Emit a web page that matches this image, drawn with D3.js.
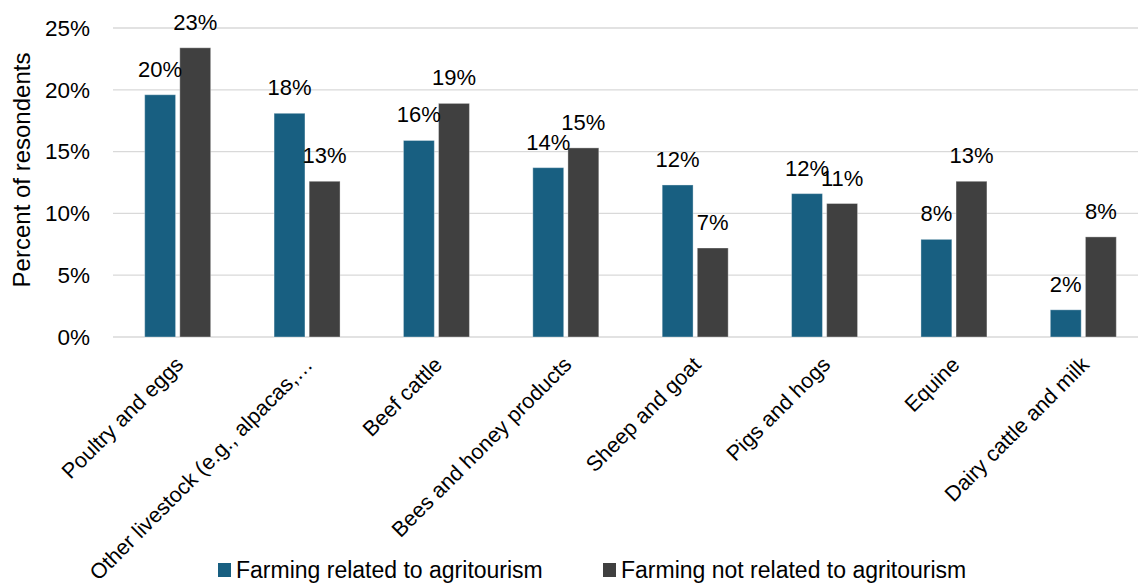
<!DOCTYPE html>
<html>
<head>
<meta charset="utf-8">
<script src="https://cdn.jsdelivr.net/npm/d3@7"></script>
<style>
  html, body { margin: 0; padding: 0; background: #fff; }
  svg { display: block; font-family: "Liberation Sans", Arial, sans-serif; }
</style>
</head>
<body>
<svg id="chart" width="1138" height="584"></svg>
<script>
// Livestock categories and the share of respondents in each group
const categories = [
  "Poultry and eggs",
  "Other livestock (e.g., alpacas,…",
  "Beef cattle",
  "Bees and honey products",
  "Sheep and goat",
  "Pigs and hogs",
  "Equine",
  "Dairy cattle and milk"
];
const seriesNames = ["Farming related to agritourism", "Farming not related to agritourism"];
const relatedValues    = [0.196, 0.181, 0.159, 0.137, 0.123, 0.116, 0.079, 0.022];
const notRelatedValues = [0.234, 0.126, 0.189, 0.153, 0.072, 0.108, 0.126, 0.081];
const yTicks = [0, 0.05, 0.10, 0.15, 0.20, 0.25];
const colors = ["#185f81", "#404040"];

const svg = d3.select("#chart");
const margin = { left: 113, right: -10, top: 28, bottom: 247 };
const width = 1138, height = 584;
const plotBottom = height - margin.bottom;

const x0 = d3.scaleBand()
  .domain(categories)
  .range([margin.left, width - margin.right])
  .paddingInner(0.49)
  .paddingOuter(0.245);

const x1 = d3.scaleBand()
  .domain(seriesNames)
  .range([0, x0.bandwidth()])
  .paddingInner(0.12);

const y = d3.scaleLinear()
  .domain([0, 0.25])
  .range([plotBottom, margin.top]);

// Horizontal gridlines
svg.append("g")
  .selectAll("line")
  .data(yTicks)
  .join("line")
  .attr("x1", margin.left)
  .attr("x2", width)
  .attr("y1", d => y(d))
  .attr("y2", d => y(d))
  .attr("stroke", "#d9d9d9")
  .attr("stroke-width", 1.3);

// Y axis labels
const yAxis = d3.axisLeft(y).tickValues(yTicks).tickFormat(d3.format(".0%")).tickSize(0).tickPadding(0);
const yg = svg.append("g").attr("transform", `translate(90,0)`).call(yAxis);
yg.select(".domain").remove();
yg.selectAll("text")
  .attr("font-size", 22.5)
  .attr("fill", "#000")
  .attr("font-family", "Liberation Sans, Arial, sans-serif");

// Y axis title
svg.append("text")
  .attr("transform", `translate(30,170) rotate(-90)`)
  .attr("text-anchor", "middle")
  .attr("font-size", 24)
  .attr("fill", "#000")
  .text("Percent of resondents");

// Bars
const rows = categories.map((c, i) => ({ cat: c, vals: [relatedValues[i], notRelatedValues[i]] }));
const groups = svg.append("g")
  .selectAll("g")
  .data(rows)
  .join("g")
  .attr("transform", d => `translate(${x0(d.cat)},0)`);

groups.selectAll("rect")
  .data(d => d.vals.map((v, j) => ({ v, s: seriesNames[j], j })))
  .join("rect")
  .attr("x", d => x1(d.s))
  .attr("y", d => y(d.v))
  .attr("width", x1.bandwidth())
  .attr("height", d => plotBottom - y(d.v))
  .attr("fill", d => colors[d.j])
  .attr("stroke", "#ffffff")
  .attr("stroke-opacity", 0.35)
  .attr("stroke-width", 1);

// Value labels
groups.selectAll("text")
  .data(d => d.vals.map((v, j) => ({ v, s: seriesNames[j], j })))
  .join("text")
  .attr("x", d => x1(d.s) + x1.bandwidth() / 2)
  .attr("y", d => y(d.v) - 18)
  .attr("text-anchor", "middle")
  .attr("font-size", 22)
  .attr("fill", "#000")
  .text(d => d3.format(".0%")(d.v));

// Category labels, rotated
const xAxis = d3.axisBottom(x0).tickSize(0).tickPadding(0);
const xg = svg.append("g").attr("transform", `translate(0,${plotBottom})`).call(xAxis);
xg.select(".domain").remove();
xg.selectAll("text")
  .attr("font-size", 21.5)
  .attr("fill", "#000")
  .attr("font-family", "Liberation Sans, Arial, sans-serif")
  .attr("text-anchor", "end")
  .attr("dy", 0)
  .attr("transform", "translate(7,29) rotate(-45)");

// Legend
const legend = svg.append("g").attr("transform", `translate(0,570)`);
const legendX = [218, 603];
seriesNames.forEach((name, i) => {
  legend.append("rect")
    .attr("x", legendX[i])
    .attr("y", -7)
    .attr("width", 13)
    .attr("height", 14)
    .attr("fill", colors[i]);
  legend.append("text")
    .attr("x", legendX[i] + 18)
    .attr("y", 8)
    .attr("font-size", 23)
    .attr("fill", "#000")
    .text(name);
});
</script>
</body>
</html>
